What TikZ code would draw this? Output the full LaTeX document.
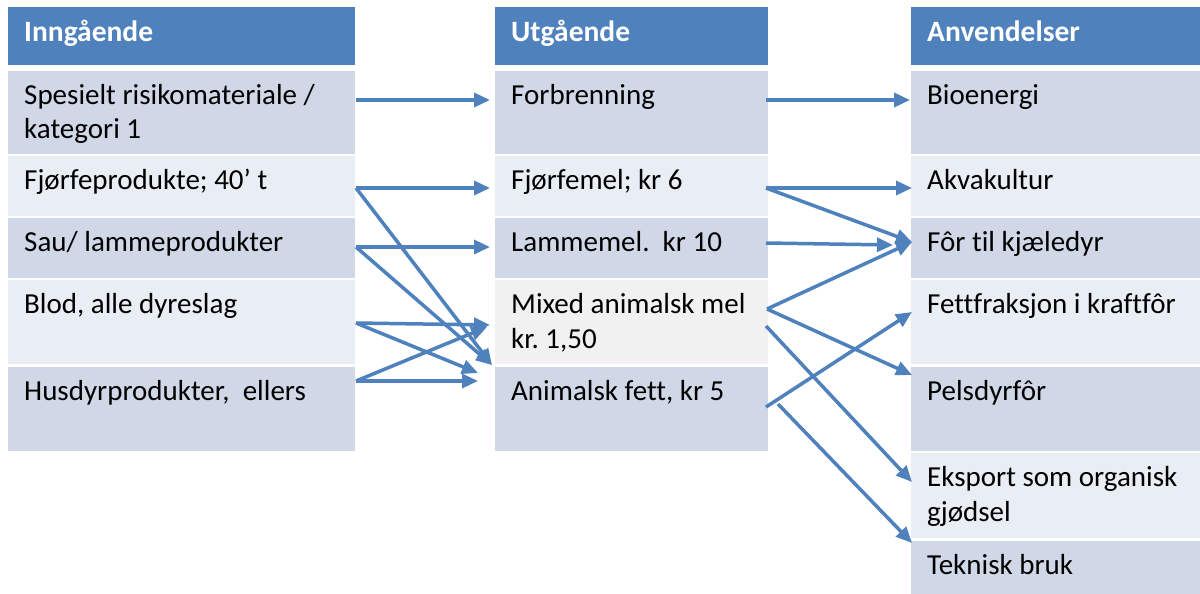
\documentclass[tikz,border=0pt]{standalone}
\usepackage{fontspec}
\setmainfont{Carlito}[Ligatures=NoCommon]
\usetikzlibrary{arrows.meta,calc}
\definecolor{hdrblue}{HTML}{4F81BD}
\definecolor{rowdark}{HTML}{D0D8E8}
\definecolor{rowlight}{HTML}{E9EDF4}
\definecolor{rowgray}{HTML}{F1F1F1}
\definecolor{arrblue}{HTML}{4F81BD}
\frenchspacing
% name, x, y, width, height, fill, text
\newcommand\cellbox[7]{%
  \node[cellshape, fill=#6, minimum width=#4pt, minimum height=#5pt] (#1) at (#2,#3) {};
  \node[celltext] (#1t) at ($(#1.north west)+(16,33)$) {\parbox[t]{#4pt}{\frenchspacing #7}};
}
\newcommand\headbox[5]{%
  \node[cellshape, fill=hdrblue, minimum width=#4pt, minimum height=58pt] (#1) at (#2,#3) {};
  \node[headtext] (#1t) at ($(#1.north west)+(16,35)$) {#5};
}
\begin{document}
\begin{tikzpicture}[x=1pt,y=-1pt,
  cellshape/.style={rectangle, draw=none, inner sep=0pt, outer sep=0pt, anchor=north west},
  celltext/.style={anchor=base west, inner sep=0pt, text=black, font=\fontsize{29}{35}\selectfont},
  headtext/.style={anchor=base west, inner sep=0pt, text=white, font=\fontsize{29.5}{35}\selectfont\bfseries},
  conn/.style={draw=arrblue, line width=3.5pt, -{Triangle[length=16pt,width=14pt]}}]
\useasboundingbox[fill=white] (0,0) rectangle (1200,594);
% column 1
\headbox{h1}{8}{7}{347}{Inngående}
\cellbox{l1}{8}{71}{347}{83}{rowdark}{Spesielt risikomateriale /\\kategori 1}
\cellbox{l2}{8}{156}{347}{60}{rowlight}{Fjørfeprodukte; 40’ t}
\cellbox{l3}{8}{218}{347}{60}{rowdark}{Sau/ lammeprodukter}
\cellbox{l4}{8}{280}{347}{84}{rowlight}{Blod, alle dyreslag}
\cellbox{l5}{8}{367}{347}{84}{rowdark}{Husdyrprodukter,\ \ ellers}
% column 2
\headbox{h2}{495}{7}{273}{Utgående}
\cellbox{m1}{495}{71}{273}{83}{rowdark}{Forbrenning}
\cellbox{m2}{495}{156}{273}{60}{rowlight}{Fjørfemel; kr 6}
\cellbox{m3}{495}{218}{273}{60}{rowdark}{Lammemel.\ \ kr 10}
\cellbox{m4}{495}{280}{273}{84}{rowgray}{Mixed animalsk mel\\kr. 1,50}
\cellbox{m5}{495}{367}{273}{84}{rowdark}{Animalsk fett, kr 5}
% column 3
\headbox{h3}{911}{7}{289}{Anvendelser}
\cellbox{r1}{911}{71}{289}{83}{rowdark}{Bioenergi}
\cellbox{r2}{911}{156}{289}{60}{rowlight}{Akvakultur}
\cellbox{r3}{911}{218}{289}{60}{rowdark}{Fôr til kjæledyr}
\cellbox{r4}{911}{280}{289}{84}{rowlight}{Fettfraksjon i kraftfôr}
\cellbox{r5}{911}{367}{289}{84}{rowdark}{Pelsdyrfôr}
\cellbox{r6}{911}{453}{289}{85}{rowlight}{Eksport som organisk\\gjødsel}
\cellbox{r7}{911}{541}{289}{53}{rowdark}{Teknisk bruk}
% left connectors
\draw[conn] ($(l1.north east)+(1,29)$) -- ($(m1.north west)+(-5,29)$);
\draw[conn] ($(l2.north east)+(1,32)$) -- ($(m2.north west)+(-5,32)$);
\draw[conn] ($(l2.north east)+(1,32)$) -- ($(m5.north west)+(-3,-2)$);
\draw[conn] ($(l3.north east)+(1,29)$) -- ($(m3.north west)+(-5,29)$);
\draw[conn] ($(l3.north east)+(1,29)$) -- ($(m5.north west)+(-3,-2)$);
\draw[conn] ($(l4.north east)+(1,43)$) -- ($(m4.north west)+(-5,45)$);
\draw[conn] ($(l4.north east)+(1,43)$) -- ($(m5.north west)+(-17,6)$);
\draw[conn] ($(l5.north east)+(1,14)$) -- ($(m5.north west)+(-17,14)$);
\draw[conn] ($(l5.north east)+(1,14)$) -- ($(m4.north west)+(-8,47)$);
% right connectors
\draw[conn] ($(m1.north east)+(-2,29)$) -- ($(r1.north west)+(-1,29)$);
\draw[conn] ($(m2.north east)+(-2,32)$) -- ($(r2.north west)+(1,32)$);
\draw[conn] ($(m2.north east)+(-2,32)$) -- ($(r3.north west)+(1,24)$);
\draw[conn] ($(m3.north east)+(-2,25)$) -- ($(r3.north west)+(-18,27)$);
\draw[conn] ($(m4.north east)+(-1,29)$) -- ($(r3.north west)+(1,24)$);
\draw[conn] ($(m4.north east)+(-1,29)$) -- ($(r5.north west)+(1,8)$);
\draw[conn] ($(m4.north east)+(-2,46)$) -- ($(r6.north west)+(1,29)$);
\draw[conn] ($(m5.north east)+(-2,40)$) -- ($(r4.north west)+(1,32)$);
\draw[conn] ($(m5.north east)+(10,37)$) -- ($(r7.north west)+(1,2)$);
\end{tikzpicture}
\end{document}
